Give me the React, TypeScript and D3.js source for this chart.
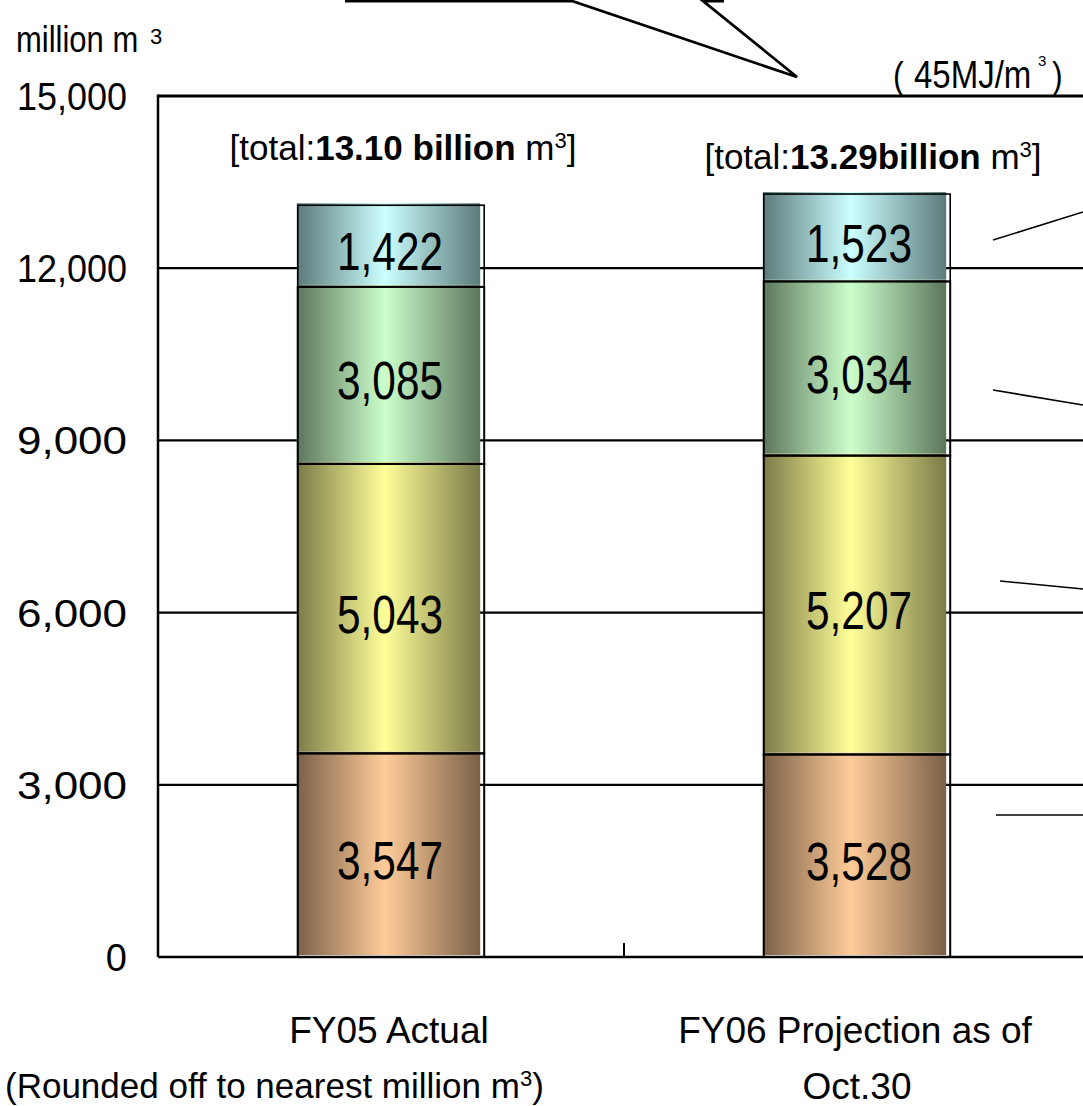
import React from 'react';
import * as d3 from 'd3';

// Fiscal-year gas volumes, million m3, stacked bottom to top
const categories = ['FY05', 'FY06'];
const categoryLine1 = ['FY05 Actual', 'FY06 Projection as of'];
const categoryLine2 = ['', 'Oct.30'];
const seriesKeys = ['s1', 's2', 's3', 's4'];
const series1 = [3547, 3528];
const series2 = [5043, 5207];
const series3 = [3085, 3034];
const series4 = [1422, 1523];
const totalLabels = ['13.10 billion', '13.29billion'];
const yTicks = [0, 3000, 6000, 9000, 12000, 15000];

// light centre / dark edge of each cylinder-like fill
const fillLight = ['#FFCC99', '#FFFF99', '#CCFFCC', '#CCFFFF'];
const fillDark = ['#7A6048', '#7A7A48', '#5C765C', '#5C7A7A'];

const W = 1083;
const H = 1106;
const fmt = d3.format(',');

export default function App() {
  const y = d3.scaleLinear().domain([0, 15000]).range([957, 96]);
  const x = d3.scaleBand<string>().domain(categories).range([158, 1090]);
  const barW = x.bandwidth() * 0.4;

  const rows = categories.map((c, i) => ({
    cat: c,
    s1: series1[i],
    s2: series2[i],
    s3: series3[i],
    s4: series4[i],
  }));
  const stacked = d3.stack<any>().keys(seriesKeys)(rows);

  const center = (c: string) => (x(c) as number) + x.bandwidth() / 2;
  const sans = 'Liberation Sans, Arial, sans-serif';

  return (
    <svg
      width={W}
      height={H}
      style={{ position: 'absolute', left: 0, top: 0, background: '#fff' }}
      fontFamily={sans}
    >
      <defs>
        {fillLight.map((c, i) => (
          <linearGradient key={i} id={`grad${i}`} x1="0" x2="1" y1="0" y2="0">
            <stop offset="0%" stopColor={fillDark[i]} />
            <stop offset="48%" stopColor={c} />
            <stop offset="100%" stopColor={fillDark[i]} />
          </linearGradient>
        ))}
      </defs>

      {/* callout pointer cut off at the top */}
      <path d="M345,1 L572,1 L797,77 L703,1 L724,1" fill="none" stroke="#000" strokeWidth={2.8} />

      {/* unit labels (tall, narrow lettering) */}
      <g transform="translate(16,52) scale(1,1.2)">
        <text x={0} y={0} fontSize={31}>million m</text>
      </g>
      <text x={150} y={44} fontSize={22}>3</text>
      <g transform="translate(893,88) scale(1,1.15)">
        <text x={0} y={0} fontSize={32}>(</text>
        <text x={21} y={0} fontSize={33}>45MJ/m</text>
      </g>
      <text x={1138} y={66} fontSize={15} transform="translate(-100,0)">3</text>
      <g transform="translate(1052,88) scale(1,1.15)">
        <text x={0} y={0} fontSize={32}>)</text>
      </g>

      {/* grid lines */}
      {yTicks.filter((t) => t > 0 && t < 15000).map((t) => (
        <line key={t} x1={158} x2={W} y1={y(t)} y2={y(t)} stroke="#000" strokeWidth={2.2} />
      ))}
      <line x1={158} x2={W} y1={y(15000)} y2={y(15000)} stroke="#000" strokeWidth={3} />

      {/* tick labels */}
      {yTicks.map((t) => (
        <text
          key={t}
          x={127}
          y={y(t) + 14}
          fontSize={38}
          textAnchor="end"
          textLength={t === 0 ? undefined : 110}
          lengthAdjust="spacingAndGlyphs"
        >
          {fmt(t)}
        </text>
      ))}

      {/* stacked bars */}
      {stacked.map((layer, li) =>
        layer.map((d, ci) => {
          const cx = center(categories[ci]);
          const x0 = cx - barW / 2;
          const top = y(d[1]);
          const bot = y(d[0]);
          return (
            <rect
              key={`${li}-${ci}`}
              x={x0 - 1}
              y={top - 2}
              width={barW - 3}
              height={bot - top}
              fill={`url(#grad${li})`}
            />
          );
        })
      )}
      {stacked.map((layer, li) =>
        layer.map((d, ci) => {
          const cx = center(categories[ci]);
          const x0 = cx - barW / 2;
          const top = y(d[1]);
          const bot = y(d[0]);
          return (
            <g key={`o${li}-${ci}`}>
              <rect
                x={x0}
                y={top}
                width={barW}
                height={bot - top}
                fill="none"
                stroke="#000"
                strokeWidth={li === 3 ? 1.6 : 2}
              />
              <text
                x={cx + (ci === 0 ? -1 : 2)}
                y={(top + bot) / 2 + 24}
                fontSize={53}
                textAnchor="middle"
                textLength={106}
                lengthAdjust="spacingAndGlyphs"
              >
                {fmt(d[1] - d[0])}
              </text>
            </g>
          );
        })
      )}

      {/* axes */}
      <line x1={158} x2={158} y1={y(15000) - 1.5} y2={y(0)} stroke="#000" strokeWidth={2.5} />
      <line x1={158} x2={W} y1={y(0)} y2={y(0)} stroke="#000" strokeWidth={2.5} />
      <line x1={x(categories[1])} x2={x(categories[1])} y1={y(0) - 14} y2={y(0)} stroke="#000" strokeWidth={2} />

      {/* totals */}
      {categories.map((c, i) => (
        <text key={c} x={center(c) + (i === 0 ? 12 : 16)} y={i === 0 ? 160 : 169} fontSize={35} textAnchor="middle">
          [total:
          <tspan fontWeight="bold">{totalLabels[i]}</tspan>
          {' m'}
          <tspan dy={-12} fontSize={22}>3</tspan>
          <tspan dy={12}>]</tspan>
        </text>
      ))}

      {/* leader lines to labels outside the view */}
      <line x1={993} y1={240} x2={W} y2={212} stroke="#000" strokeWidth={1.6} />
      <line x1={993} y1={390} x2={W} y2={405} stroke="#000" strokeWidth={1.6} />
      <line x1={1000} y1={581} x2={W} y2={589} stroke="#000" strokeWidth={1.6} />
      <line x1={996} y1={815} x2={W} y2={815} stroke="#000" strokeWidth={1.6} />

      {/* category labels */}
      {categories.map((c, i) => (
        <g key={`cat${c}`}>
          <text x={center(c) - 2} y={1043} fontSize={37} textAnchor="middle">
            {categoryLine1[i]}
          </text>
          {categoryLine2[i] && (
            <text x={center(c)} y={1099} fontSize={37} textAnchor="middle">
              {categoryLine2[i]}
            </text>
          )}
        </g>
      ))}
      <text x={5} y={1098} fontSize={35}>
        (Rounded off to nearest million m
        <tspan dy={-12} fontSize={22}>3</tspan>
        <tspan dy={12}>)</tspan>
      </text>
    </svg>
  );
}
